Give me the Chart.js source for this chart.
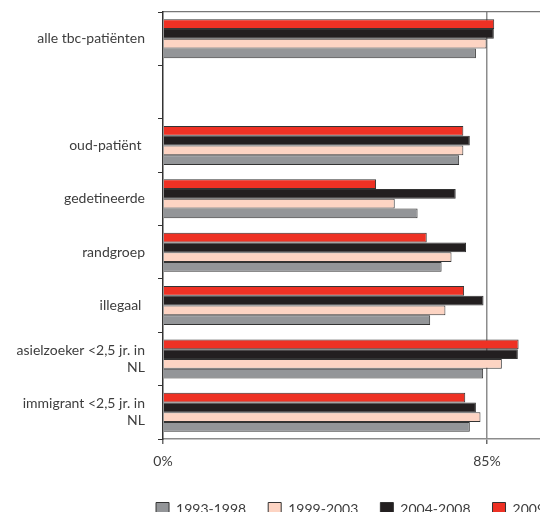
<!DOCTYPE html>
<html>
<head>
<meta charset="utf-8">
<script src="https://cdn.jsdelivr.net/npm/chart.js@4/dist/chart.umd.min.js"></script>
<style>
  html, body { margin: 0; padding: 0; background: #fff; overflow: hidden; }
  #wrap { width: 600px; height: 526px; }
</style>
</head>
<body>
<div id="wrap"><canvas id="c" width="600" height="526"></canvas></div>
<script>
// Groups (the blank entry leaves an empty row below the total)
const categories = [
  'alle tbc-patiënten',
  '',
  'oud-patiënt ',
  'gedetineerde',
  'randgroep',
  'illegaal ',
  ['asielzoeker <2,5 jr. in', 'NL'],
  ['immigrant <2,5 jr. in', 'NL']
];

// Percentages per period
const s1993_1998 = [82.1, null, 77.7, 66.8, 73.1, 70.1, 84.0, 80.5];
const s1999_2003 = [84.9, null, 78.8, 60.8, 75.7, 74.1, 88.9, 83.3];
const s2004_2008 = [86.8, null, 80.5, 76.8, 79.5, 84.1, 93.1, 82.1];
const s2009      = [86.9, null, 78.8, 55.9, 69.2, 79.0, 93.3, 79.3];

const periodLabels = ['2009', '2004-2008', '1999-2003', '1993-1998'];
const xTickValues = [0, 85];
const xMax = 106;

const colors = {
  '2009': '#ee3124',
  '2004-2008': '#231f20',
  '1999-2003': '#fdd4c3',
  '1993-1998': '#939598'
};
const seriesByLabel = {
  '2009': s2009,
  '2004-2008': s2004_2008,
  '1999-2003': s1999_2003,
  '1993-1998': s1993_1998
};

const datasets = periodLabels.map(lbl => ({
  label: lbl,
  data: seriesByLabel[lbl],
  backgroundColor: colors[lbl],
  borderColor: '#333',
  borderWidth: 1,
  borderSkipped: 'start',
  barPercentage: 1.0,
  categoryPercentage: 0.73
}));

const textColor = '#3d3d3d';

new Chart(document.getElementById('c'), {
  type: 'bar',
  data: { labels: categories, datasets },
  options: {
    indexAxis: 'y',
    responsive: false,
    animation: false,
    devicePixelRatio: 1,
    layout: { padding: { top: 12, right: 33, left: 0, bottom: 0 } },
    plugins: {
      tooltip: { enabled: false },
      legend: {
        position: 'bottom',
        align: 'end',
        reverse: true,
        labels: {
          boxWidth: 13,
          boxHeight: 13,
          padding: 22,
          color: textColor,
          font: { family: 'Lato', size: 14 }
        }
      }
    },
    scales: {
      x: {
        min: 0,
        max: xMax,
        afterBuildTicks: s => { s.ticks = xTickValues.map(v => ({ value: v })); },
        afterFit: s => { s.height = 41; },
        ticks: {
          callback: v => v + '%',
          color: textColor,
          padding: 9,
          maxRotation: 0,
          font: { family: 'Lato', size: 14 }
        },
        grid: {
          color: ctx => (ctx.tick && ctx.tick.value === 85) ? '#8c8c8c' : 'transparent',
          tickColor: '#6a6a6a',
          tickLength: 5,
          lineWidth: 1.5
        },
        border: { color: '#8c8c8c', width: 1.5 }
      },
      // frame line along the top of the plot
      xTop: {
        position: 'top',
        min: 0,
        max: xMax,
        ticks: { display: false },
        grid: { display: false, drawTicks: false },
        border: { display: true, color: '#777', width: 1.2 },
        afterFit: s => { s.height = 0; }
      },
      y: {
        afterFit: s => { s.width = 163; s.paddingTop = 0; s.paddingBottom = 0; },
        ticks: {
          color: textColor,
          padding: 13,
          font: { family: 'Lato', size: 14, lineHeight: 1.22 }
        },
        grid: {
          offset: true,
          color: 'transparent',
          tickColor: '#333',
          tickLength: 5,
          drawOnChartArea: true
        },
        border: { color: '#333', width: 1.5 }
      }
    }
  }
});
</script>
</body>
</html>
